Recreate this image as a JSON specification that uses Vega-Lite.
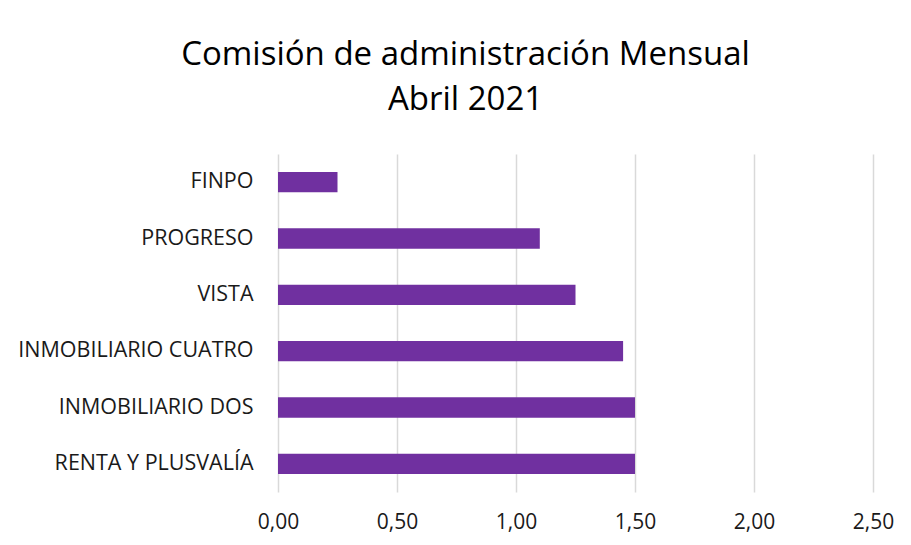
{
  "$schema": "https://vega.github.io/schema/vega-lite/v6.json",
  "width": 595,
  "height": 338,
  "autosize": "none",
  "padding": {"left": 278, "top": 154, "right": 38, "bottom": 53},
  "background": "white",
  "title": {
    "text": ["Comisión de administración Mensual", "Abril 2021"],
    "anchor": "middle",
    "frame": "group",
    "dx": -110,
    "fontSize": 33,
    "fontWeight": "normal",
    "font": "Open Sans",
    "color": "#000000",
    "lineHeight": 45,
    "offset": 37
  },
  "data": {
    "values": [
      {"fondo": "FINPO", "valor": 0.25},
      {"fondo": "PROGRESO", "valor": 1.10},
      {"fondo": "VISTA", "valor": 1.25},
      {"fondo": "INMOBILIARIO CUATRO", "valor": 1.45},
      {"fondo": "INMOBILIARIO DOS", "valor": 1.50},
      {"fondo": "RENTA Y PLUSVALÍA", "valor": 1.50}
    ]
  },
  "mark": {"type": "bar", "color": "#7030A0"},
  "encoding": {
    "y": {
      "field": "fondo",
      "type": "nominal",
      "sort": null,
      "scale": {"paddingInner": 0.64, "paddingOuter": 0.32},
      "axis": {
        "title": null,
        "ticks": false,
        "domain": false,
        "labelPadding": 25,
        "labelFontSize": 21.5,
        "labelFont": "Open Sans",
        "labelColor": "#1a1a1a",
        "labelLimit": 300
      }
    },
    "x": {
      "field": "valor",
      "type": "quantitative",
      "scale": {"domain": [0, 2.5], "nice": false},
      "axis": {
        "title": null,
        "values": [0, 0.5, 1, 1.5, 2, 2.5],
        "labelExpr": "replace(format(datum.value, '.2f'), '.', ',')",
        "labelFlush": false,
        "ticks": false,
        "domain": false,
        "grid": true,
        "gridColor": "#d9d9d9",
        "gridWidth": 1.5,
        "labelPadding": 19,
        "labelFontSize": 21,
        "labelFont": "Open Sans",
        "labelColor": "#1a1a1a"
      }
    }
  },
  "config": {"view": {"stroke": null}}
}
